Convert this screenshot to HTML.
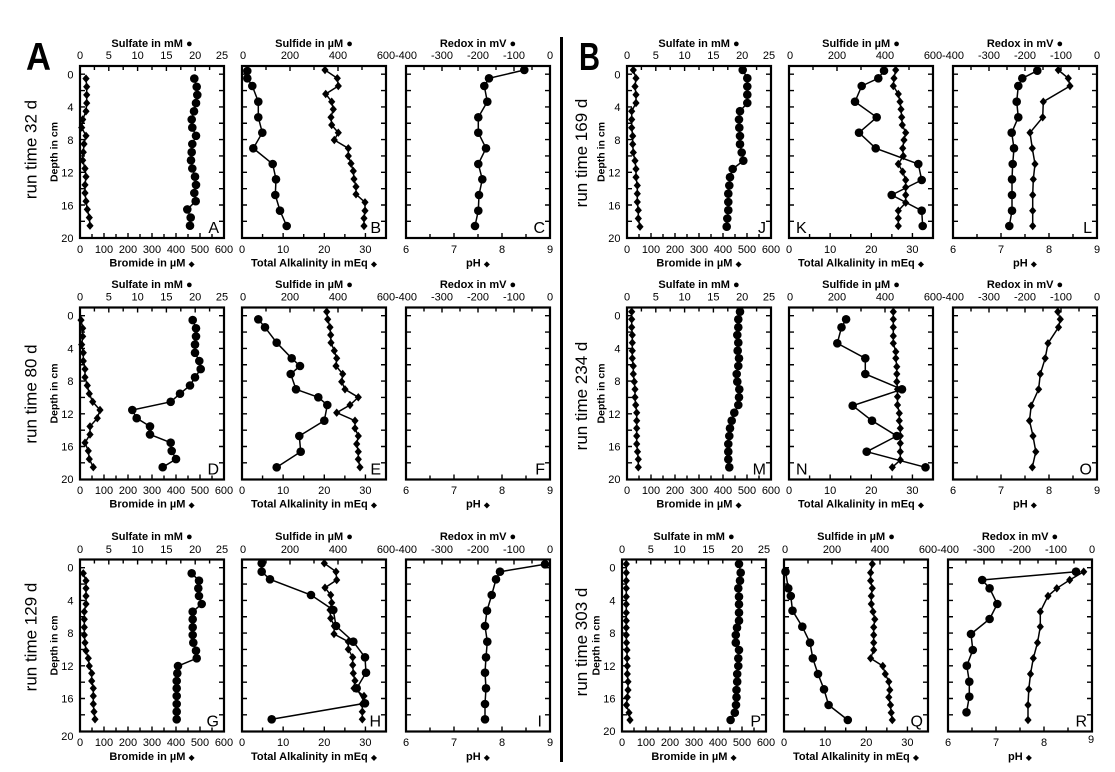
<!DOCTYPE html>
<html><head><meta charset="utf-8">
<style>
html,body{margin:0;padding:0;background:#fff;}
svg{display:block;}
text{font-family:"Liberation Sans",Arial,sans-serif;fill:#000;}
.tk{font-size:11px;text-anchor:middle;}
.dl{font-size:11px;text-anchor:end;}
.ti{font-size:11px;font-weight:bold;text-anchor:middle;}
.pl{font-size:16px;text-anchor:end;}
.pls{font-size:16px;text-anchor:start;}
.rt{font-size:17px;text-anchor:middle;}
.dc{font-size:10.5px;font-weight:bold;text-anchor:middle;}
.sy{font-family:"DejaVu Sans",sans-serif;font-size:8px;}
.ln{fill:none;stroke:#000;stroke-width:1.5;}
.c{marker-start:url(#mc);marker-mid:url(#mc);marker-end:url(#mc);}
.d{marker-start:url(#md);marker-mid:url(#md);marker-end:url(#md);}
</style></head><body>
<svg width="1115" height="772" viewBox="0 0 1115 772" xmlns="http://www.w3.org/2000/svg">
<defs>
<marker id="mc" viewBox="-6 -6 12 12" refX="0" refY="0" markerWidth="12" markerHeight="12" markerUnits="userSpaceOnUse"><circle r="4.3" fill="#000"/></marker>
<marker id="md" viewBox="-6 -6 12 12" refX="0" refY="0" markerWidth="12" markerHeight="12" markerUnits="userSpaceOnUse"><path d="M0,-4.2L3.6,0L0,4.2L-3.6,0Z" fill="#000"/></marker>
<path id="lr" fill="none" stroke="#000" stroke-width="1.4" d="M0,8.2h5M0,24.55h5M0,40.9h5M0,57.25h5M0,73.6h5M0,89.95h5M0,106.3h5M0,122.65h5M0,139h5M0,155.35h5M144,8.2h-5M144,24.55h-5M144,40.9h-5M144,57.25h-5M144,73.6h-5M144,89.95h-5M144,106.3h-5M144,122.65h-5M144,139h-5M144,155.35h-5"/>
<g id="f1">
<rect x="0" y="0" width="144" height="172" fill="none" stroke="#000" stroke-width="2.2"/>
<use href="#lr"/>
<path fill="none" stroke="#000" stroke-width="1.4" d="M14.4,0v4M28.8,0v5M43.2,0v4M57.6,0v5M72,0v4M86.4,0v5M100.8,0v4M115.2,0v5M129.6,0v4M12,172v-4M24,172v-5M36,172v-4M48,172v-5M60,172v-4M72,172v-5M84,172v-4M96,172v-5M108,172v-4M120,172v-5M132,172v-4"/>
</g>
<g id="f2">
<rect x="0" y="0" width="144" height="172" fill="none" stroke="#000" stroke-width="2.2"/>
<use href="#lr"/>
<path fill="none" stroke="#000" stroke-width="1.4" d="M24,0v4M48,0v5M72,0v4M96,0v5M120,0v4M20.57,172v-4M41.14,172v-5M61.71,172v-4M82.29,172v-5M102.86,172v-4M123.43,172v-5"/>
</g>
<g id="f3">
<rect x="0" y="0" width="144" height="172" fill="none" stroke="#000" stroke-width="2.2"/>
<use href="#lr"/>
<path fill="none" stroke="#000" stroke-width="1.4" d="M18,0v4M36,0v5M54,0v4M72,0v5M90,0v4M108,0v5M126,0v4M24,172v-4M48,172v-5M72,172v-4M96,172v-5M120,172v-4"/>
</g>
</defs>

<!-- big letters and divider -->
<text x="26" y="70" font-size="39" font-weight="bold" textLength="25" lengthAdjust="spacingAndGlyphs">A</text>
<text x="579" y="70" font-size="39" font-weight="bold" textLength="21" lengthAdjust="spacingAndGlyphs">B</text>
<rect x="560" y="37" width="3" height="725" fill="#000"/>

<!-- frames -->
<use href="#f1" x="80" y="66"/><use href="#f2" x="242" y="66"/><use href="#f3" x="406" y="66"/>
<use href="#f1" x="627" y="66"/><use href="#f2" x="789" y="66"/><use href="#f3" x="953" y="66"/>
<use href="#f1" x="80" y="307.5"/><use href="#f2" x="242" y="307.5"/><use href="#f3" x="406" y="307.5"/>
<use href="#f1" x="627" y="307.5"/><use href="#f2" x="789" y="307.5"/><use href="#f3" x="953" y="307.5"/>
<use href="#f1" x="80" y="559.5"/><use href="#f2" x="242" y="559.5"/><use href="#f3" x="406" y="559.5"/>
<use href="#f1" x="622" y="559.5"/><use href="#f2" x="784" y="559.5"/><use href="#f3" x="948" y="559.5"/>

<!-- run time labels -->
<text class="rt" transform="translate(36.5,149.5) rotate(-90)">run time 32 d</text>
<text class="rt" transform="translate(36.5,394) rotate(-90)">run time 80 d</text>
<text class="rt" transform="translate(36.5,637) rotate(-90)">run time 129 d</text>
<text class="rt" transform="translate(587,153) rotate(-90)">run time 169 d</text>
<text class="rt" transform="translate(587,396) rotate(-90)">run time 234 d</text>
<text class="rt" transform="translate(587,642) rotate(-90)">run time 303 d</text>

<!-- Depth labels -->
<text class="dc" transform="translate(57.7,152) rotate(-90)">Depth in cm</text>
<text class="dc" transform="translate(57.7,393.5) rotate(-90)">Depth in cm</text>
<text class="dc" transform="translate(57.7,645.5) rotate(-90)">Depth in cm</text>
<text class="dc" transform="translate(604.7,152) rotate(-90)">Depth in cm</text>
<text class="dc" transform="translate(604.7,393.5) rotate(-90)">Depth in cm</text>
<text class="dc" transform="translate(599.7,645.5) rotate(-90)">Depth in cm</text>

<!-- depth tick labels -->
<g>
<text class="dl" x="73.5" y="78.5">0</text><text class="dl" x="73.5" y="111.2">4</text><text class="dl" x="73.5" y="143.9">8</text><text class="dl" x="73.5" y="176.6">12</text><text class="dl" x="73.5" y="209.3">16</text><text class="dl" x="73.5" y="242">20</text>
<text class="dl" x="73.5" y="319.7">0</text><text class="dl" x="73.5" y="352.4">4</text><text class="dl" x="73.5" y="385.1">8</text><text class="dl" x="73.5" y="417.8">12</text><text class="dl" x="73.5" y="450.5">16</text><text class="dl" x="73.5" y="483.2">20</text>
<text class="dl" x="73.5" y="571.7">0</text><text class="dl" x="73.5" y="604.4">4</text><text class="dl" x="73.5" y="637.1">8</text><text class="dl" x="73.5" y="669.8">12</text><text class="dl" x="73.5" y="702.5">16</text><text class="dl" x="73.5" y="740">20</text>
<text class="dl" x="620.5" y="78.5">0</text><text class="dl" x="620.5" y="111.2">4</text><text class="dl" x="620.5" y="143.9">8</text><text class="dl" x="620.5" y="176.6">12</text><text class="dl" x="620.5" y="209.3">16</text><text class="dl" x="620.5" y="242">20</text>
<text class="dl" x="620.5" y="319.7">0</text><text class="dl" x="620.5" y="352.4">4</text><text class="dl" x="620.5" y="385.1">8</text><text class="dl" x="620.5" y="417.8">12</text><text class="dl" x="620.5" y="450.5">16</text><text class="dl" x="620.5" y="483.2">20</text>
<text class="dl" x="615.5" y="571.7">0</text><text class="dl" x="615.5" y="604.4">4</text><text class="dl" x="615.5" y="637.1">8</text><text class="dl" x="615.5" y="669.8">12</text><text class="dl" x="615.5" y="702.5">16</text><text class="dl" x="615.5" y="735.2">20</text>
</g>

<!-- titles / xlabels -->
<text class="ti" x="152" y="47">Sulfate in mM <tspan>●</tspan></text>
<text class="ti" x="314" y="47">Sulfide in µM <tspan>●</tspan></text>
<text class="ti" x="478" y="47">Redox in mV <tspan>●</tspan></text>
<text class="ti" x="699" y="47">Sulfate in mM <tspan>●</tspan></text>
<text class="ti" x="861" y="47">Sulfide in µM <tspan>●</tspan></text>
<text class="ti" x="1025" y="47">Redox in mV <tspan>●</tspan></text>

<text class="ti" x="152" y="266.5">Bromide in µM <tspan class="sy">◆</tspan></text>
<text class="ti" x="314" y="266.5">Total Alkalinity in mEq <tspan class="sy">◆</tspan></text>
<text class="ti" x="478" y="266.5">pH <tspan class="sy">◆</tspan></text>
<text class="ti" x="699" y="266.5">Bromide in µM <tspan class="sy">◆</tspan></text>
<text class="ti" x="861" y="266.5">Total Alkalinity in mEq <tspan class="sy">◆</tspan></text>
<text class="ti" x="1025" y="266.5">pH <tspan class="sy">◆</tspan></text>

<text class="ti" x="152" y="288">Sulfate in mM <tspan>●</tspan></text>
<text class="ti" x="314" y="288">Sulfide in µM <tspan>●</tspan></text>
<text class="ti" x="478" y="288">Redox in mV <tspan>●</tspan></text>
<text class="ti" x="699" y="288">Sulfate in mM <tspan>●</tspan></text>
<text class="ti" x="861" y="288">Sulfide in µM <tspan>●</tspan></text>
<text class="ti" x="1025" y="288">Redox in mV <tspan>●</tspan></text>

<text class="ti" x="152" y="507.5">Bromide in µM <tspan class="sy">◆</tspan></text>
<text class="ti" x="314" y="507.5">Total Alkalinity in mEq <tspan class="sy">◆</tspan></text>
<text class="ti" x="478" y="507.5">pH <tspan class="sy">◆</tspan></text>
<text class="ti" x="699" y="507.5">Bromide in µM <tspan class="sy">◆</tspan></text>
<text class="ti" x="861" y="507.5">Total Alkalinity in mEq <tspan class="sy">◆</tspan></text>
<text class="ti" x="1025" y="507.5">pH <tspan class="sy">◆</tspan></text>

<text class="ti" x="152" y="540">Sulfate in mM <tspan>●</tspan></text>
<text class="ti" x="314" y="540">Sulfide in µM <tspan>●</tspan></text>
<text class="ti" x="478" y="540">Redox in mV <tspan>●</tspan></text>
<text class="ti" x="694" y="540">Sulfate in mM <tspan>●</tspan></text>
<text class="ti" x="856" y="540">Sulfide in µM <tspan>●</tspan></text>
<text class="ti" x="1020" y="540">Redox in mV <tspan>●</tspan></text>

<text class="ti" x="152" y="760">Bromide in µM <tspan class="sy">◆</tspan></text>
<text class="ti" x="314" y="760">Total Alkalinity in mEq <tspan class="sy">◆</tspan></text>
<text class="ti" x="478" y="760">pH <tspan class="sy">◆</tspan></text>
<text class="ti" x="694" y="760">Bromide in µM <tspan class="sy">◆</tspan></text>
<text class="ti" x="856" y="760">Total Alkalinity in mEq <tspan class="sy">◆</tspan></text>
<text class="ti" x="1020" y="760">pH <tspan class="sy">◆</tspan></text>

<!-- tick labels -->
<g>
<text class="tk" x="80" y="59">0</text><text class="tk" x="108.8" y="59">5</text><text class="tk" x="137.6" y="59">10</text><text class="tk" x="166.4" y="59">15</text><text class="tk" x="195.2" y="59">20</text><text class="tk" x="222" y="59">25</text>
<text class="tk" x="243" y="59">0</text><text class="tk" x="290" y="59">200</text><text class="tk" x="338" y="59">400</text><text class="tk" x="386" y="59">600</text>
<text class="tk" x="406" y="59">-400</text><text class="tk" x="442" y="59">-300</text><text class="tk" x="478" y="59">-200</text><text class="tk" x="514" y="59">-100</text><text class="tk" x="550" y="59">0</text>
<text class="tk" x="627" y="59">0</text><text class="tk" x="655.8" y="59">5</text><text class="tk" x="684.6" y="59">10</text><text class="tk" x="713.4" y="59">15</text><text class="tk" x="742.2" y="59">20</text><text class="tk" x="769" y="59">25</text>
<text class="tk" x="790" y="59">0</text><text class="tk" x="837" y="59">200</text><text class="tk" x="885" y="59">400</text><text class="tk" x="933" y="59">600</text>
<text class="tk" x="953" y="59">-400</text><text class="tk" x="989" y="59">-300</text><text class="tk" x="1025" y="59">-200</text><text class="tk" x="1061" y="59">-100</text><text class="tk" x="1097" y="59">0</text>

<text class="tk" x="80" y="253">0</text><text class="tk" x="104" y="253">100</text><text class="tk" x="128" y="253">200</text><text class="tk" x="152" y="253">300</text><text class="tk" x="176" y="253">400</text><text class="tk" x="200" y="253">500</text><text class="tk" x="224" y="253">600</text>
<text class="tk" x="242" y="253">0</text><text class="tk" x="283.1" y="253">10</text><text class="tk" x="324.3" y="253">20</text><text class="tk" x="365.4" y="253">30</text>
<text class="tk" x="406" y="253">6</text><text class="tk" x="454" y="253">7</text><text class="tk" x="502" y="253">8</text><text class="tk" x="550" y="253">9</text>
<text class="tk" x="627" y="253">0</text><text class="tk" x="651" y="253">100</text><text class="tk" x="675" y="253">200</text><text class="tk" x="699" y="253">300</text><text class="tk" x="723" y="253">400</text><text class="tk" x="747" y="253">500</text><text class="tk" x="771" y="253">600</text>
<text class="tk" x="789" y="253">0</text><text class="tk" x="830.1" y="253">10</text><text class="tk" x="871.3" y="253">20</text><text class="tk" x="912.4" y="253">30</text>
<text class="tk" x="953" y="253">6</text><text class="tk" x="1001" y="253">7</text><text class="tk" x="1049" y="253">8</text><text class="tk" x="1097" y="253">9</text>

<text class="tk" x="80" y="300.5">0</text><text class="tk" x="108.8" y="300.5">5</text><text class="tk" x="137.6" y="300.5">10</text><text class="tk" x="166.4" y="300.5">15</text><text class="tk" x="195.2" y="300.5">20</text><text class="tk" x="222" y="300.5">25</text>
<text class="tk" x="243" y="300.5">0</text><text class="tk" x="290" y="300.5">200</text><text class="tk" x="338" y="300.5">400</text><text class="tk" x="386" y="300.5">600</text>
<text class="tk" x="406" y="300.5">-400</text><text class="tk" x="442" y="300.5">-300</text><text class="tk" x="478" y="300.5">-200</text><text class="tk" x="514" y="300.5">-100</text><text class="tk" x="550" y="300.5">0</text>
<text class="tk" x="627" y="300.5">0</text><text class="tk" x="655.8" y="300.5">5</text><text class="tk" x="684.6" y="300.5">10</text><text class="tk" x="713.4" y="300.5">15</text><text class="tk" x="742.2" y="300.5">20</text><text class="tk" x="769" y="300.5">25</text>
<text class="tk" x="790" y="300.5">0</text><text class="tk" x="837" y="300.5">200</text><text class="tk" x="885" y="300.5">400</text><text class="tk" x="933" y="300.5">600</text>
<text class="tk" x="953" y="300.5">-400</text><text class="tk" x="989" y="300.5">-300</text><text class="tk" x="1025" y="300.5">-200</text><text class="tk" x="1061" y="300.5">-100</text><text class="tk" x="1097" y="300.5">0</text>

<text class="tk" x="80" y="494">0</text><text class="tk" x="104" y="494">100</text><text class="tk" x="128" y="494">200</text><text class="tk" x="152" y="494">300</text><text class="tk" x="176" y="494">400</text><text class="tk" x="200" y="494">500</text><text class="tk" x="224" y="494">600</text>
<text class="tk" x="242" y="494">0</text><text class="tk" x="283.1" y="494">10</text><text class="tk" x="324.3" y="494">20</text><text class="tk" x="365.4" y="494">30</text>
<text class="tk" x="406" y="494">6</text><text class="tk" x="454" y="494">7</text><text class="tk" x="502" y="494">8</text><text class="tk" x="550" y="494">9</text>
<text class="tk" x="627" y="494">0</text><text class="tk" x="651" y="494">100</text><text class="tk" x="675" y="494">200</text><text class="tk" x="699" y="494">300</text><text class="tk" x="723" y="494">400</text><text class="tk" x="747" y="494">500</text><text class="tk" x="771" y="494">600</text>
<text class="tk" x="789" y="494">0</text><text class="tk" x="830.1" y="494">10</text><text class="tk" x="871.3" y="494">20</text><text class="tk" x="912.4" y="494">30</text>
<text class="tk" x="953" y="494">6</text><text class="tk" x="1001" y="494">7</text><text class="tk" x="1049" y="494">8</text><text class="tk" x="1097" y="494">9</text>

<text class="tk" x="80" y="553">0</text><text class="tk" x="108.8" y="553">5</text><text class="tk" x="137.6" y="553">10</text><text class="tk" x="166.4" y="553">15</text><text class="tk" x="195.2" y="553">20</text><text class="tk" x="222" y="553">25</text>
<text class="tk" x="243" y="553">0</text><text class="tk" x="290" y="553">200</text><text class="tk" x="338" y="553">400</text><text class="tk" x="386" y="553">600</text>
<text class="tk" x="406" y="553">-400</text><text class="tk" x="442" y="553">-300</text><text class="tk" x="478" y="553">-200</text><text class="tk" x="514" y="553">-100</text><text class="tk" x="550" y="553">0</text>
<text class="tk" x="622" y="553">0</text><text class="tk" x="650.8" y="553">5</text><text class="tk" x="679.6" y="553">10</text><text class="tk" x="708.4" y="553">15</text><text class="tk" x="737.2" y="553">20</text><text class="tk" x="764" y="553">25</text>
<text class="tk" x="785" y="553">0</text><text class="tk" x="832" y="553">200</text><text class="tk" x="880" y="553">400</text><text class="tk" x="928" y="553">600</text>
<text class="tk" x="948" y="553">-400</text><text class="tk" x="984" y="553">-300</text><text class="tk" x="1020" y="553">-200</text><text class="tk" x="1056" y="553">-100</text><text class="tk" x="1092" y="553">0</text>

<text class="tk" x="80" y="746">0</text><text class="tk" x="104" y="746">100</text><text class="tk" x="128" y="746">200</text><text class="tk" x="152" y="746">300</text><text class="tk" x="176" y="746">400</text><text class="tk" x="200" y="746">500</text><text class="tk" x="224" y="746">600</text>
<text class="tk" x="242" y="746">0</text><text class="tk" x="283.1" y="746">10</text><text class="tk" x="324.3" y="746">20</text><text class="tk" x="365.4" y="746">30</text>
<text class="tk" x="406" y="746">6</text><text class="tk" x="454" y="746">7</text><text class="tk" x="502" y="746">8</text><text class="tk" x="550" y="746">9</text>
<text class="tk" x="622" y="746">0</text><text class="tk" x="646" y="746">100</text><text class="tk" x="670" y="746">200</text><text class="tk" x="694" y="746">300</text><text class="tk" x="718" y="746">400</text><text class="tk" x="742" y="746">500</text><text class="tk" x="766" y="746">600</text>
<text class="tk" x="784" y="746">0</text><text class="tk" x="825.1" y="746">10</text><text class="tk" x="866.3" y="746">20</text><text class="tk" x="907.4" y="746">30</text>
<text class="tk" x="948" y="746">6</text><text class="tk" x="996" y="746">7</text><text class="tk" x="1044" y="746">8</text><text class="tk" x="1091" y="743">9</text>
</g>

<!-- panel letters -->
<text class="pl" x="219" y="233">A</text><text class="pl" x="381" y="233">B</text><text class="pl" x="545" y="233">C</text>
<text class="pl" x="766" y="233">J</text><text class="pls" x="796" y="233">K</text><text class="pl" x="1092" y="233">L</text>
<text class="pl" x="219" y="474.5">D</text><text class="pl" x="381" y="474.5">E</text><text class="pl" x="545" y="474.5">F</text>
<text class="pl" x="766" y="474.5">M</text><text class="pls" x="796" y="474.5">N</text><text class="pl" x="1092" y="474.5">O</text>
<text class="pl" x="219" y="726.5">G</text><text class="pl" x="381" y="726.5">H</text><text class="pl" x="542" y="726.5">I</text>
<text class="pl" x="761" y="726.5">P</text><text class="pl" x="923" y="726.5">Q</text><text class="pl" x="1087" y="726.5">R</text>

<!-- DATA: Row 1 -->
<polyline class="ln d" points="86,78.6 86.7,86.8 86.7,94.9 86.7,103.1 86,111.3 82.7,119.5 81.7,127.6 86,135.8 84,144 83.3,152.2 82.7,160.3 85,168.5 86,176.7 85,184.9 85,193 86,201.2 87.3,209.4 89.3,217.6 90,225.7"/>
<polyline class="ln c" points="194.3,78.6 196.7,86.8 197.3,94.9 196,103.1 194,111.3 191.7,119.5 192.3,127.6 196,135.8 192.3,144 191.7,152.2 191,160.3 192.3,168.5 195,176.7 196,184.9 194.3,193 195.7,201.2 187.3,209.4 190.7,217.6 190,225.7"/>
<polyline class="ln c" points="247.3,71 247.3,78.3 252.3,86 258.3,101.7 258.3,117.3 262.3,132.7 253.3,148.3 272.7,164 276,179.3 275.3,195 280,210.7 286.7,226"/>
<polyline class="ln d" points="325,70 337.3,78.3 338.3,86 325.7,94 331.7,101.7 333.3,109.3 331,117.3 331.7,125 338.3,132.7 334.3,140 348.3,148.3 348.3,156 351,163.5 353.3,171 354,179 356,186.7 356,194.3 365,202.3 365,210.7 364,218.3 364,226"/>
<polyline class="ln c" points="524.3,70 489,78.3 484.3,86 487.3,101.7 478.3,117.3 478.3,132.7 486,148.3 478.3,164 482.3,179.3 479,195 478.3,210.7 475,226"/>

<polyline class="ln c" points="742.7,70 747.3,78.2 747.3,86.5 747.3,94.7 747.3,103 740,111.2 739,119.5 739.3,127.7 740,136 740,144.2 741.7,152.5 743.3,160.7 732.7,169 730,177.2 729.3,185.5 728.3,193.7 728.3,202 728.3,210.2 727.3,218.5 726.7,226.7"/>
<polyline class="ln d" points="633.3,70 636,78.2 635,86.5 636,94.7 636,103 631.7,111.2 631.7,119.5 631.7,127.7 632.7,136 632.7,144.2 633.3,152.5 635,160.7 636,169 636,177.2 637.3,185.5 637.3,193.7 637.3,202 638.3,210.2 638.3,218.5 640,226.7"/>
<polyline class="ln c" points="884,70.7 878.3,78.3 861.7,86 855,101.7 876.7,117.3 859,132.7 875.7,148.3 918.3,164 921.7,180 891.7,195 921.7,210.7 922.7,226"/>
<polyline class="ln d" points="895.7,70 894,78.3 893.3,86 898.3,94 900,101.7 901,109.3 901.7,117.3 902.3,125 905.7,132.7 904,140 902.7,148.3 903.3,156 898.3,164 902.7,171.7 905.7,180 905.7,187.3 905.7,195 905.7,202.7 898.3,210.7 898.3,218.3 898.3,226"/>
<polyline class="ln c" points="1037.3,70.7 1022.3,78.3 1018.3,86 1016.7,101.7 1018.3,117.3 1011.7,132.7 1014,148.3 1012.7,164 1012,179.3 1012,195 1012,210.7 1009.3,226"/>
<polyline class="ln d" points="1058.3,70 1068.3,78.3 1070,86 1043.3,101.7 1042.7,117.3 1030,132.7 1032.3,148.3 1035,164 1033.3,179.3 1032.7,195 1032.7,210.7 1032.7,226"/>

<!-- DATA: Row 2 -->
<polyline class="ln c" points="192.7,320.1 196,328.3 196,336.4 195,344.6 195,352.8 199.3,361 200.7,369.1 195,377.3 190,385.5 180,393.7 170.7,401.8 132.3,410 136.7,418.2 150,426.4 150,434.5 170.7,442.7 171.7,450.9 176,459.1 162.7,467.2"/>
<polyline class="ln d" points="81,320.1 82.7,328.3 82.7,336.4 81.7,344.6 83.3,352.8 83.3,361 85,369.1 85,377.3 87.3,385.5 89.3,393.7 92.7,401.8 100,410 97.3,418.2 90,426.4 90,434.5 85,442.7 88.3,450.9 89.3,459.1 93.3,467.2"/>
<polyline class="ln c" points="258.3,319.3 265,327.3 276.7,342.7 291.7,358.3 300,366 290.7,374 296,389.3 318.3,397.3 327.3,405 324.3,420.7 299.3,436 300.7,451.7 276.7,467.3"/>
<polyline class="ln d" points="326.7,311.7 327.7,319.3 330,327.3 330.7,335 331,342.7 334.3,350.7 336.7,358.3 336,366 342.7,374 341.7,381.7 345,389.3 358.3,397.3 350,405 336.7,412.7 355,420.7 355,428.3 358.3,436 356.7,444 358.3,451.7 358.3,459.3 360,467.3"/>

<polyline class="ln c" points="740,311.7 738.3,319.3 738.3,327.3 737.3,335 738.3,342.7 737.7,350.7 739,358.3 738.3,366 736.7,374 737.3,381.7 739.3,389.3 739,397.3 738.3,405 734.3,412.7 731.7,420.7 730,428.3 729.3,436 728.3,444 728.3,451.7 728.3,459.3 729.3,467.3"/>
<polyline class="ln d" points="631.7,311.7 631.7,319.3 631.7,327.3 632.3,335 632.3,342.7 632.3,350.7 632.3,358.3 633.3,366 633.3,374 634.3,381.7 635,389.3 635,397.3 635.7,405 636.7,412.7 636.7,420.7 636.7,428.3 636.7,436 636.7,444 637.5,451.7 638.3,459.3 638.3,467.3"/>
<polyline class="ln c" points="846.1,319.3 841.5,327.3 837.3,343.3 865.3,358.3 865.3,374 902,389.3 852.7,405.7 872,420.7 896.8,436 866.7,451.7 925.5,467.3"/>
<polyline class="ln d" points="893.3,311.7 893.3,319.3 893.3,327.3 893.3,336 893.3,343.3 895.8,351.7 895.8,358.3 896.8,366.7 896.8,374 896.8,381.7 897.5,389.3 897.5,396.7 897.5,405 899.3,413.3 899.3,420.7 900.3,428.3 900.3,436 900.3,443.3 900.3,451.7 900.3,460 892.3,467.3"/>
<polyline class="ln d" points="1057.8,311.7 1060.3,319.3 1058.5,327.3 1048,343.3 1045.2,358.3 1040.3,374 1038.6,389.3 1031.2,405.7 1029.5,420.7 1033,436 1035.8,451.7 1032.3,467.3"/>

<!-- DATA: Row 3 -->
<polyline class="ln c" points="191.7,573.3 199,580.7 198.3,588.3 199,596 201.7,604 192.7,611.7 192.7,619.3 192.7,627.3 192.7,635 193.3,642.7 196,650.7 196.7,658.3 178,666 177.3,673.3 176.7,681 176.7,688.3 176.7,696 176.7,704 176.7,711.7 176.7,719.3"/>
<polyline class="ln d" points="83.3,573.3 86,580.7 86,588.3 86,596 86,604 84.3,611.7 84.3,619.3 84.3,627.3 84.3,635 85,642.7 86,650.7 88.3,658.3 89.3,666 91.7,673.3 91.7,681 93.3,688.3 93.3,696 93.3,704 94,711.7 95,719.3"/>
<polyline class="ln c" points="261.7,563.3 261.7,571.7 270,579.3 311,595 333.3,610 336,626 353.3,641.7 365,657.3 366,672.7 356.7,688.3 365,703.3 271.7,719.3"/>
<polyline class="ln d" points="324.3,563.3 336,571.7 336.7,580 325,587.7 330.7,595 331.7,602.7 330,610 330.7,618.3 334.3,626 334,634 348.3,641.7 348.3,649.3 352.7,657.3 352.7,665 353.3,673.3 355,680.7 354,688.3 364,696 362.3,704 362.3,711.7 362.3,719.3"/>
<polyline class="ln c" points="545,564.3 500,571.7 496,579.3 491.7,595 487,610.7 485,626 487.3,641.7 486,657.3 485,672.7 486,688.3 485,704 485,719.3"/>

<polyline class="ln c" points="739,564 740.7,572.7 740,580.7 738.3,588.3 739,596.7 739,604.3 739,612.7 739,620.7 737,627.7 735.8,635 735.8,642.7 739,650 738.3,658.3 738.3,666 737.2,674 737.2,681.7 736.5,690 736.5,697.3 736,705 734.8,712.7 730.6,720"/>
<polyline class="ln d" points="626.3,564 626.3,572.7 626.3,580.7 626.3,588.3 626.3,596.7 626.3,604.3 626.3,612.7 626.3,620.7 626.3,627.7 626.3,635 626.5,642.7 627,650 627,658.3 627.3,666 627.3,674 628,681.7 628,690 627.3,697.3 626.5,705 629,712.7 630,720"/>
<polyline class="ln c" points="785.5,571.7 788.3,588.3 790.8,596 792.5,610.7 802.3,626.7 810,642.7 812.8,658.3 818,674 824,689.3 828.6,705 847.8,720"/>
<polyline class="ln d" points="872.3,564 870.6,572.7 870.6,580.7 872.3,588.3 871.3,596 871.3,604 873,611.7 874.8,619.3 873.7,627.3 873.7,635 873.7,642.7 873.7,650 870.6,658.3 882.8,666 885.3,674 888.8,681.7 889.8,690 888.8,697.3 890.5,705 891.2,712.7 892.3,720"/>
<polyline class="ln c" points="1076,571.7 982.2,580 989.6,588.3 997.3,604 989.6,619 971,634 972.8,650 966.8,665.7 969.3,681.7 969.3,696.7 966.5,712.3"/>
<polyline class="ln d" points="1083.7,571.7 1069.7,580 1056.8,588.3 1048,596 1040.3,611.7 1040.3,626.7 1037.5,642.7 1033.3,658.3 1030.5,674 1028.8,689.3 1028,705 1028,720"/>
</svg>
</body></html>
